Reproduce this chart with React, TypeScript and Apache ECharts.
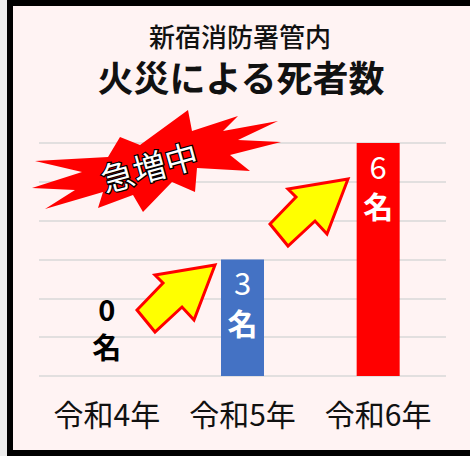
import React, { useEffect, useRef } from "react";
import * as echarts from "echarts";

const categories = ["令和4年", "令和5年", "令和6年"];
const deaths = [0, 3, 6];
const barColors = ["#4472C4", "#4472C4", "#FF0000"];
const yMin = 0;
const yMax = 6;
const yInterval = 1;
const titleLine1 = "新宿消防署管内";
const titleLine2 = "火災による死者数";
const burstText = "急増中";
const unit = "名";

const FONT = '"Noto Sans CJK JP", "Noto Sans", sans-serif';

const arrowShape = [
  [0, 0],
  [-60, 10],
  [-52, 18],
  [-78, 45],
  [-60, 67],
  [-33, 42],
  [-21, 55],
];

const burstShape = [
  [35, 161],
  [108, 157],
  [120, 137],
  [140, 145],
  [188, 110],
  [192, 131],
  [238, 116],
  [223, 131],
  [278, 121],
  [238, 140],
  [281, 142],
  [230, 155],
  [250, 171],
  [197, 168],
  [195, 192],
  [172, 182],
  [143, 212],
  [133, 195],
  [98, 208],
  [103, 192],
  [45, 209],
  [75, 190],
  [32, 188],
  [82, 172],
];

export default function App() {
  const ref = useRef<HTMLDivElement>(null);
  useEffect(() => {
    document.body.style.margin = "0";
    const chart = echarts.init(ref.current!, null, { renderer: "svg" });
    const makeArrow = (x: number, y: number) => ({
      type: "polygon",
      x,
      y,
      z: 100,
      shape: { points: arrowShape },
      style: { fill: "#FFFF00", stroke: "#FF0000", lineWidth: 3, lineJoin: "miter" },
    });
    chart.setOption({
      animation: false,
      grid: { left: 39, right: 24, top: 143, bottom: 80 },
      xAxis: {
        type: "category",
        data: categories,
        axisLine: { show: false },
        axisTick: { show: false },
        axisLabel: {
          fontSize: 30,
          color: "#111",
          margin: 22,
          fontFamily: FONT,
          interval: 0,
          hideOverlap: false,
        },
      },
      yAxis: {
        type: "value",
        min: yMin,
        max: yMax,
        interval: yInterval,
        axisLabel: { show: false },
        axisLine: { show: false },
        axisTick: { show: false },
        splitLine: { lineStyle: { color: "#d9d9d9", width: 1.5 } },
      },
      series: [
        {
          type: "bar",
          barWidth: 43,
          data: deaths.map((v, i) => ({
            value: v,
            itemStyle: { color: barColors[i] },
            label:
              v === 0
                ? {
                    show: true,
                    position: "top",
                    distance: 11,
                    formatter: (p: any) => `{n|${p.value}}\n{u|${unit}}`,
                    rich: {
                      n: { fontSize: 29, fontWeight: "bold", color: "#000", lineHeight: 38, fontFamily: FONT },
                      u: { fontSize: 29, fontWeight: "bold", color: "#000", lineHeight: 38, fontFamily: FONT },
                    },
                  }
                : {
                    show: true,
                    position: "insideTop",
                    distance: 2,
                    formatter: (p: any) => `{n|${p.value}}\n{u|${unit}}`,
                    rich: {
                      n: { fontSize: 31, fontWeight: "normal", color: "#fff", lineHeight: 40, fontFamily: FONT },
                      u: { fontSize: 30, fontWeight: "bold", color: "#fff", lineHeight: 40, fontFamily: FONT },
                    },
                  },
          })),
        },
      ],
      graphic: [
        {
          type: "text",
          x: 240,
          y: 35,
          z: 100,
          style: {
            text: titleLine1,
            fontSize: 26,
            fontWeight: 500,
            fontFamily: FONT,
            fill: "#111",
            textAlign: "center",
            textVerticalAlign: "middle",
          },
        },
        {
          type: "text",
          x: 241,
          y: 76,
          z: 100,
          style: {
            text: titleLine2,
            fontSize: 36,
            fontWeight: "bold",
            fontFamily: FONT,
            fill: "#111",
            textAlign: "center",
            textVerticalAlign: "middle",
          },
        },
        {
          type: "polygon",
          z: 100,
          shape: { points: burstShape },
          style: { fill: "#FF0000" },
        },
        {
          type: "text",
          x: 149,
          y: 166,
          z: 101,
          rotation: 0.27,
          style: {
            text: burstText,
            fontSize: 33,
            fontFamily: FONT,
            fill: "#fff",
            stroke: "#000",
            lineWidth: 2.5,
            textAlign: "center",
            textVerticalAlign: "middle",
          },
        },
        makeArrow(215, 265),
        makeArrow(348, 179),
      ],
    });
    return () => chart.dispose();
  }, []);
  return (
    <div style={{ position: "fixed", left: 0, top: 0, width: 470, height: 456, background: "#ececec" }}>
      <div
        style={{
          position: "absolute",
          left: 7,
          top: 0,
          width: 463,
          height: 456,
          boxSizing: "border-box",
          borderTop: "6px solid #000",
          borderLeft: "6px solid #000",
          borderBottom: "6px solid #000",
          background: "#FFF3F3",
        }}
      />
      <div ref={ref} style={{ position: "absolute", left: 0, top: 0, width: 470, height: 456 }} />
    </div>
  );
}
